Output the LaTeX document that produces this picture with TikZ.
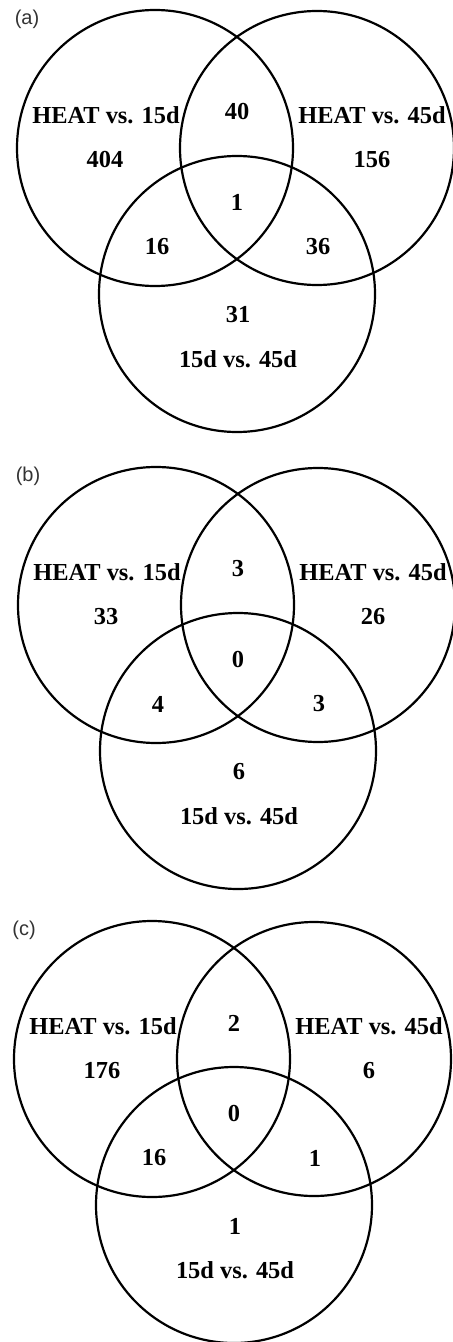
\documentclass[tikz,border=0pt]{standalone}
\usepackage{fontspec}
\setmainfont{Liberation Serif}
\newfontfamily\panelfont{Liberation Sans}
\tikzset{
  setline/.style={line width=1.1pt, color=black},
  setlabel/.style={font=\fontsize{12.2}{14}\selectfont\bfseries, inner sep=0pt},
  panellabel/.style={font=\panelfont\fontsize{10}{12}\selectfont, inner sep=0pt, text=black!80}
}

\begin{document}
\begin{tikzpicture}[x=0.5pt, y={(0pt,-0.5pt)}]
\useasboundingbox (0,0) rectangle (452,1342);
\foreach \p/\dx/\dy/\nA/\nB/\nC/\nAB/\nAC/\nBC/\nABC in
  {a/0/0/404/156/31/40/16/36/1, b/1/457/33/26/6/3/4/3/0, c/-3/911/176/6/1/2/16/1/0} {
  \begin{scope}[shift={(\dx,\dy)}]
    % circle centres
    \coordinate (cA\p) at (155,148);
    \coordinate (cB\p) at (317,148);
    \coordinate (cC\p) at (237,294);
    \draw[setline] (cA\p) circle[radius=138];
    \draw[setline] (cB\p) circle[radius=137];
    \draw[setline] (cC\p) circle[radius=138];
    \node[panellabel] (lab\p) at (27,19) {(\p)};
    % set names
    \node[setlabel] (nameA\p) at (106,115) {HEAT vs. 15d};
    \node[setlabel] (nameB\p) at (372,115) {HEAT vs. 45d};
    \node[setlabel] (nameC\p) at (238,359) {15d vs. 45d};
    % counts
    \node[setlabel] (nA\p) at (105,160) {\nA};
    \node[setlabel] (nB\p) at (372,160) {\nB};
    \node[setlabel] (nC\p) at (238,315) {\nC};
    \node[setlabel] (nAB\p) at (237,112) {\nAB};
    \node[setlabel] (nAC\p) at (157,247) {\nAC};
    \node[setlabel] (nBC\p) at (318,247) {\nBC};
    \node[setlabel] (nABC\p) at (237,202) {\nABC};
  \end{scope}
}
\end{tikzpicture}
\end{document}
